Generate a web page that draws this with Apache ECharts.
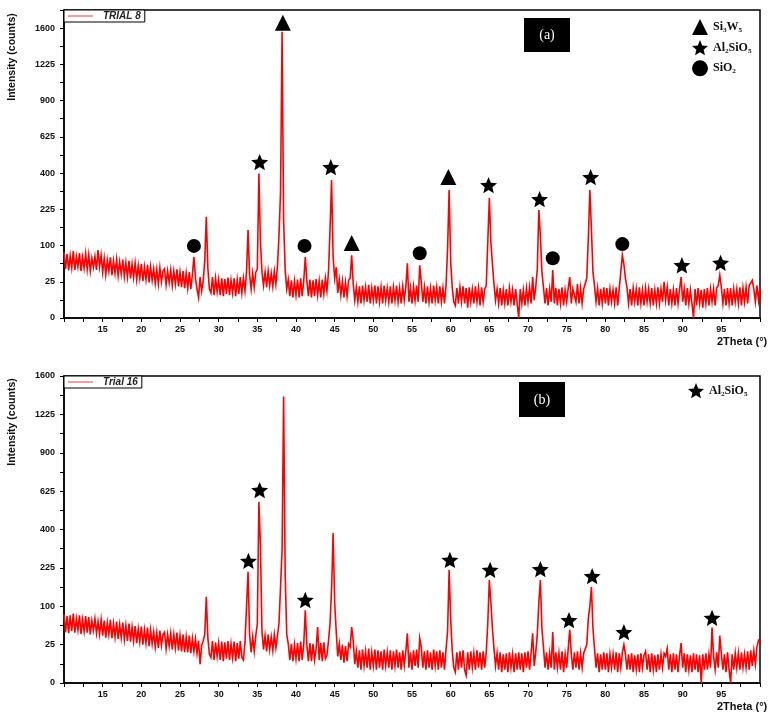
<!DOCTYPE html>
<html>
<head>
<meta charset="utf-8">
<script src="https://cdn.jsdelivr.net/npm/echarts@6.0.0/dist/echarts.min.js"></script>
<style>
html,body{margin:0;padding:0;background:#fff;}
#c{width:772px;height:719px;}
</style>
</head>
<body>
<div id="c"></div>
<script>
// 2Theta sampling grid (degrees)
const angleStart = 10;
const angleStep = 0.2;

// Panel (a) TRIAL 8 intensity (counts), five samples per degree (10.0 .. 100.0)
const trial8Counts = [
82,46,78,43,74, 48,85,44,72,50, 80,42,70,47,79, 45,76,42,68,49, 72,44,88,50,75,
40,68,36,64,42, 70,35,62,38,66, 34,60,37,65,33, 58,32,62,30,55, 31,57,28,52,30,
56,26,50,28,54, 24,50,27,46,23, 45,22,48,25,42, 46,21,42,24,44, 20,42,22,45,19,
40,18,42,17,38, 17,40,16,36,71, 30,16,8,32,14, 26,62,195,48,16, 12,32,10,30,13,
28,10,30,9,29, 11,31,10,27,12, 30,9,28,11,32, 12,30,14,40,147, 35,16,38,18,40,
45,398,110,40,20, 40,18,42,20,38, 19,42,22,50,130, 300,1560,180,45,16, 28,9,27,8,26,
10,28,8,30,9, 26,71,27,9,28, 8,27,9,29,10, 26,8,28,11,30, 14,40,150,362,70,
30,49,12,28,10, 26,8,24,9,27, 30,75,22,6,18, 5,19,4,20,6, 18,5,21,4,17,
6,20,4,19,5, 18,4,20,6,17, 5,19,4,18,6, 20,5,17,4,19, 6,18,57,5,17,
4,19,6,20,5, 53,24,5,18,4, 19,5,17,4,20, 6,18,4,19,5, 17,4,20,90,312,
60,18,5,3,17, 4,18,5,19,4, 17,2,18,5,16, 4,19,5,17,3, 18,5,16,20,110,
274,110,55,22,6, 16,4,17,3,15, 4,16,3,17,5, 15,3,16,4,0, 16,4,15,3,17,
5,18,4,32,6, 18,45,222,130,40, 18,4,17,3,16, 5,44,4,17,3, 16,4,18,3,15,
5,17,32,4,16, 18,5,22,4,17, 4,16,18,30,120, 312,150,40,20,5, 17,3,16,4,18,
4,17,3,16,5, 15,4,18,3,17, 40,75,55,30,18, 4,16,3,17,5, 16,3,18,4,15,
3,17,5,16,4, 17,3,15,4,18, 4,16,5,25,6, 18,3,16,4,15, 3,17,4,16,32,
5,16,3,17,4, 15,4,0,16,3, 17,4,15,2,16, 4,17,3,16,5, 16,3,17,20,35,
18,4,16,3,17, 4,17,3,16,5, 16,4,18,3,17, 5,18,4,20,22, 27,16,5,20,6,
18
];

// Panel (b) Trial 16 intensity (counts)
const trial16Counts = [
80,44,76,42,78, 46,82,43,70,48, 78,41,68,45,76, 43,74,40,66,47, 70,42,64,40,68,
38,66,35,62,40, 68,34,60,36,64, 33,58,35,62,32, 56,30,60,29,53, 30,55,27,50,29,
54,25,48,27,52, 23,48,26,44,22, 43,21,46,24,40, 44,20,40,23,42, 19,40,21,43,18,
38,17,40,16,36, 16,38,15,34,17, 33,15,30,6,24, 30,40,126,35,14, 11,30,9,28,12,
27,9,29,8,28, 10,30,9,26,11, 29,8,27,10,30, 11,9,28,30,210, 40,16,36,17,38,
60,557,323,45,19, 38,17,40,19,36, 18,40,21,38,60, 156,300,1393,200,40, 26,9,26,8,25,
10,27,8,29,9, 25,90,25,8,27, 8,26,9,20,53, 9,27,8,28,10, 13,30,60,150,382,
110,45,12,26,9, 25,7,23,8,26, 22,53,30,6,17, 4,18,3,19,5, 17,4,20,3,16,
5,19,3,18,4, 17,3,19,5,16, 4,18,3,17,5, 19,4,16,3,18, 5,17,42,4,16,
3,18,5,19,4, 34,22,4,17,3, 18,4,16,3,19, 5,17,3,18,4, 16,3,19,45,217,
70,18,4,2,16, 3,17,4,18,3, 1,16,3,17,4, 15,3,18,4,16, 3,17,4,16,60,
180,110,50,20,5, 15,3,16,2,14, 3,15,2,16,4, 14,2,15,3,16, 3,15,2,16,4,
17,3,15,42,5, 16,40,110,180,50, 22,4,16,3,15, 4,44,3,16,4, 15,3,17,2,14,
4,20,48,14,3, 16,4,17,3,15, 4,15,14,25,70, 100,156,50,20,4, 15,2,14,3,16,
3,15,2,14,4, 14,3,16,2,15, 4,16,25,14,3, 14,3,15,2,13, 3,14,2,15,4,
13,17,3,14,2, 15,3,13,2,14, 3,14,4,15,12, 20,3,14,2,15, 3,14,2,13,27,
4,15,2,14,3, 13,2,15,3,14, 2,13,0,14,3, 15,3,14,4,52, 12,3,16,4,38,
15,3,14,2,16, 3,0,14,3,15, 4,15,3,16,4, 14,4,17,3,18, 5,18,6,22,31,
28
];

// Phase markers, panel (a)
const tri8Angles = [38.3, 47.2, 59.7];
const tri8Counts = [1660, 107, 378];
const star8Angles = [35.3, 44.5, 64.9, 71.5, 78.1, 89.9, 94.9];
const star8Counts = [463, 433, 336, 269, 378, 53, 58];
const circ8Angles = [26.8, 41.1, 56.0, 73.2, 82.2];
const circ8Counts = [99, 99, 80, 68, 104];

// Phase markers, panel (b)
const star16Angles = [33.85, 35.3, 41.2, 59.9, 65.1, 71.6, 75.3, 78.3, 82.4, 93.8];
const star16Counts = [253, 632, 117, 257, 217, 220, 67, 194, 44, 72];

// Tick labels
const yTickLabels = ['0','25','100','225','400','625','900','1225','1600'];
const xTickLabels = ['15','20','25','30','35','40','45','50','55','60','65','70','75','80','85','90','95'];

const phaseNames = ['Si\u2083W\u2085', 'Al\u2082SiO\u2085', 'SiO\u2082'];
const trialNames = ['TRIAL 8', 'Trial 16'];

const STAR = 'path://M12,0.6 L15.1,8.2 L23.3,8.9 L17.1,14.2 L19,22.3 L12,18 L5,22.3 L6.9,14.2 L0.7,8.9 L8.9,8.2 Z';

function profile(counts) {
  return counts.map((c, i) => [+(angleStart + i * angleStep).toFixed(2), Math.sqrt(c)]);
}
function marks(angles, counts) {
  return angles.map((a, i) => [a, Math.sqrt(counts[i])]);
}

const FONT = 'Liberation Sans, Arial, sans-serif';
const SERIF = 'Liberation Serif, DejaVu Serif, serif';

function xAxis(gi) {
  return {
    type: 'value', gridIndex: gi, min: 10, max: 100, interval: 5,
    axisLine: {show: true, onZero: false, lineStyle: {color: '#000', width: 1.5}},
    axisTick: {show: true, inside: false, length: 4, lineStyle: {color: '#000', width: 1}},
    minorTick: {show: true, splitNumber: 2, length: 4, lineStyle: {color: '#000', width: 1}},
    splitLine: {show: false},
    axisLabel: {
      margin: 7, fontSize: 9, fontWeight: 'bold', fontFamily: FONT, color: '#111',
      formatter: v => xTickLabels.indexOf(String(v)) >= 0 ? String(v) : ''
    }
  };
}
function yAxis(gi, max) {
  return {
    type: 'value', gridIndex: gi, min: 0, max: max, interval: 5,
    axisLine: {show: true, onZero: false, lineStyle: {color: '#000', width: 1.5}},
    axisTick: {show: true, inside: false, length: 4, lineStyle: {color: '#000', width: 1}},
    minorTick: {show: true, splitNumber: 2, length: 4, lineStyle: {color: '#000', width: 1}},
    splitLine: {show: false},
    axisLabel: {
      margin: 9, fontSize: 9, fontWeight: 'bold', fontFamily: FONT, color: '#111',
      formatter: v => { const k = Math.round(v / 5); return (Math.abs(v - k * 5) < 1e-6 && k < yTickLabels.length) ? yTickLabels[k] : ''; }
    }
  };
}

const chart = echarts.init(document.getElementById('c'), null, {renderer: 'canvas'});

const trialLegend = (name, top) => ({
  data: [name], left: 64, top: top, orient: 'horizontal', selectedMode: false,
  padding: [1, 4, 1, 4], borderColor: '#000', borderWidth: 1, backgroundColor: '#fff',
  icon: 'rect', itemWidth: 25, itemHeight: 2,
  itemStyle: {color: '#ff9a9a'},
  textStyle: {fontStyle: 'italic', fontWeight: 'bold', fontSize: 10, fontFamily: FONT, color: '#222', padding: [0, 0, 0, 5]}
});
const phaseLegend = (names, left, top) => ({
  data: names, left: left, top: top, orient: 'vertical', selectedMode: false,
  padding: 0, itemGap: 5, itemWidth: 16, itemHeight: 16,
  itemStyle: {color: '#000', opacity: 1},
  textStyle: {fontWeight: 'bold', fontSize: 12, fontFamily: SERIF, color: '#111'}
});

const lineStyle = {color: '#ff0000', width: 1.6, join: 'miter'};

chart.setOption({
  animation: false,
  backgroundColor: '#fff',
  grid: [
    {left: 64, top: 10, width: 696, height: 308, show: true, borderColor: '#000', borderWidth: 1.5, backgroundColor: 'transparent'},
    {left: 64, top: 376, width: 696, height: 307, show: true, borderColor: '#000', borderWidth: 1.5, backgroundColor: 'transparent'}
  ],
  xAxis: [xAxis(0), xAxis(1)],
  yAxis: [yAxis(0, 42.5), yAxis(1, 40)],
  legend: [
    trialLegend(trialNames[0], 10),
    trialLegend(trialNames[1], 376),
    phaseLegend(phaseNames, 692, 19),
    phaseLegend([phaseNames[1]], 688, 383)
  ],
  series: [
    {name: trialNames[0], type: 'line', xAxisIndex: 0, yAxisIndex: 0, data: profile(trial8Counts),
     symbol: 'none', showSymbol: false, lineStyle: lineStyle, itemStyle: {color: '#ff0000'}, z: 2},
    {name: trialNames[1], type: 'line', xAxisIndex: 1, yAxisIndex: 1, data: profile(trial16Counts),
     symbol: 'none', showSymbol: false, lineStyle: lineStyle, itemStyle: {color: '#ff0000'}, z: 2},
    {name: phaseNames[0], type: 'scatter', xAxisIndex: 0, yAxisIndex: 0, data: marks(tri8Angles, tri8Counts),
     symbol: 'triangle', symbolSize: 16, itemStyle: {color: '#000', opacity: 1}, z: 5},
    {name: phaseNames[1], type: 'scatter', xAxisIndex: 0, yAxisIndex: 0, data: marks(star8Angles, star8Counts),
     symbol: STAR, symbolSize: 17, symbolKeepAspect: true, itemStyle: {color: '#000', opacity: 1}, z: 5},
    {name: phaseNames[2], type: 'scatter', xAxisIndex: 0, yAxisIndex: 0, data: marks(circ8Angles, circ8Counts),
     symbol: 'circle', symbolSize: 14, itemStyle: {color: '#000', opacity: 1}, z: 5},
    {name: phaseNames[1], type: 'scatter', xAxisIndex: 1, yAxisIndex: 1, data: marks(star16Angles, star16Counts),
     symbol: STAR, symbolSize: 17, symbolKeepAspect: true, itemStyle: {color: '#000', opacity: 1}, z: 5}
  ],
  graphic: [
    {type: 'text', x: 12, y: 57, rotation: Math.PI / 2,
     style: {text: 'Intensity (counts)', align: 'center', verticalAlign: 'middle', fontSize: 10.5, fontWeight: 'bold', fontFamily: FONT, fill: '#111'}},
    {type: 'text', x: 12, y: 422, rotation: Math.PI / 2,
     style: {text: 'Intensity (counts)', align: 'center', verticalAlign: 'middle', fontSize: 10.5, fontWeight: 'bold', fontFamily: FONT, fill: '#111'}},
    {type: 'text', x: 717, y: 342,
     style: {text: '2Theta (\u00b0)', align: 'left', verticalAlign: 'middle', fontSize: 11, fontWeight: 'bold', fontFamily: FONT, fill: '#111'}},
    {type: 'text', x: 717, y: 707,
     style: {text: '2Theta (\u00b0)', align: 'left', verticalAlign: 'middle', fontSize: 11, fontWeight: 'bold', fontFamily: FONT, fill: '#111'}},
    {type: 'rect', shape: {x: 524, y: 18, width: 46, height: 34}, style: {fill: '#000'}, z: 10},
    {type: 'text', x: 547, y: 35, z: 11,
     style: {text: '(a)', align: 'center', verticalAlign: 'middle', fontSize: 14, fontFamily: SERIF, fill: '#fff'}},
    {type: 'rect', shape: {x: 519, y: 382, width: 46, height: 35}, style: {fill: '#000'}, z: 10},
    {type: 'text', x: 542, y: 400, z: 11,
     style: {text: '(b)', align: 'center', verticalAlign: 'middle', fontSize: 14, fontFamily: SERIF, fill: '#fff'}}
  ]
});
</script>
</body>
</html>
